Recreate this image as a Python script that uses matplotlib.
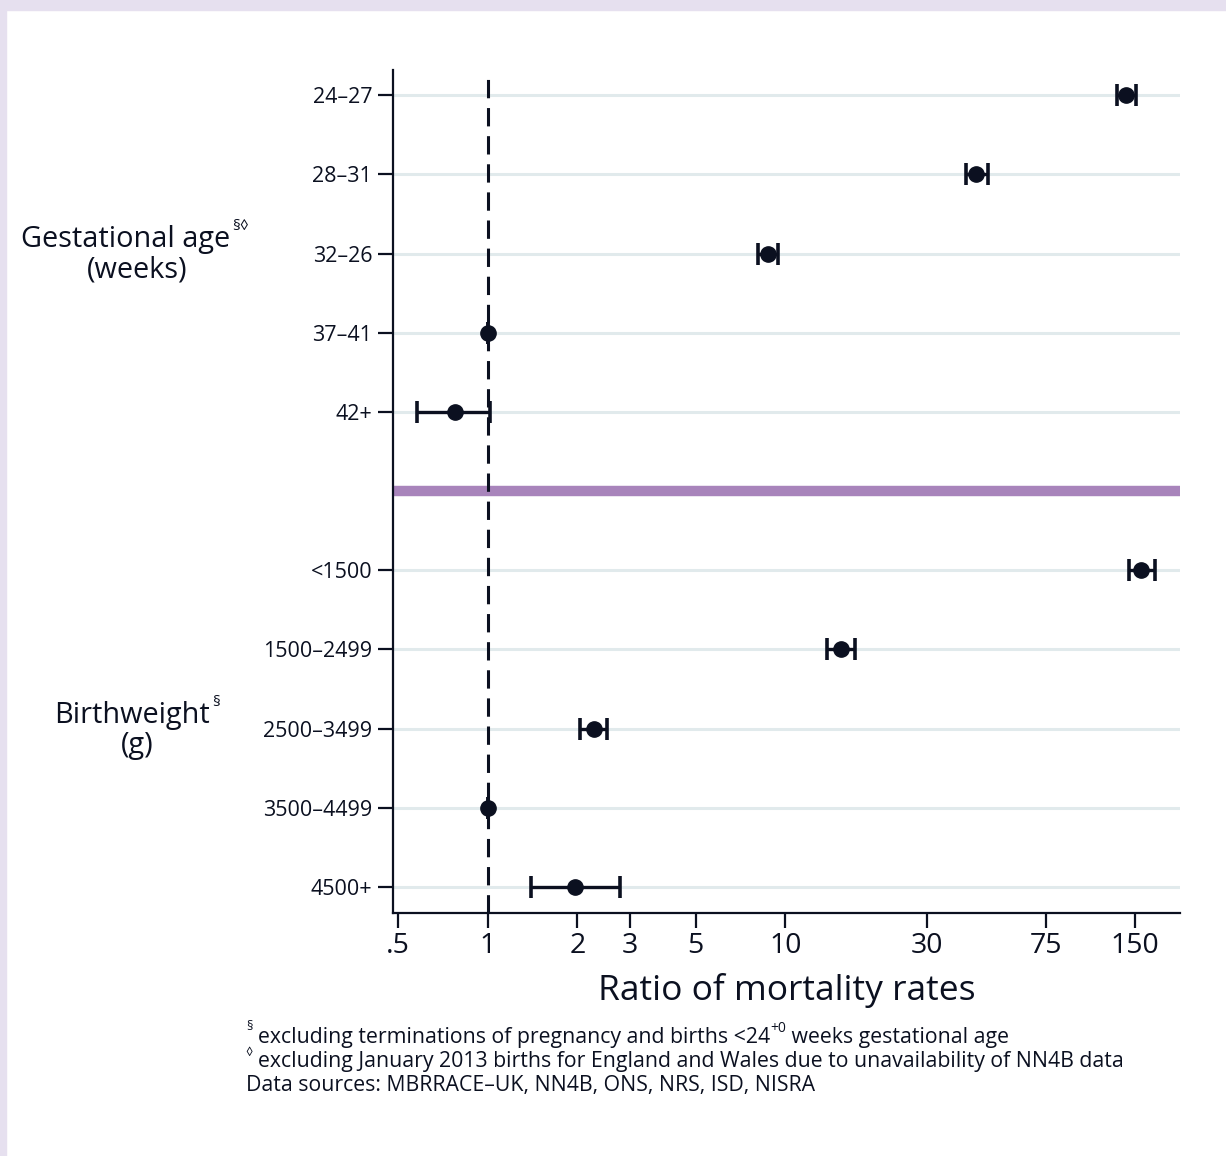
import matplotlib
matplotlib.use("Agg")
import matplotlib.pyplot as plt
import numpy as np

plt.rcParams['font.family'] = ['Open Sans', 'DejaVu Sans']

# rows from top to bottom; None marks the separator between the two groups
labels = ["24–27", "28–31", "32–26", "37–41", "42+",
          None,
          "<1500", "1500–2499", "2500–3499", "3500–4499", "4500+"]
ratio = [140, 43.8, 8.75, 1, 0.774, None, 157, 15.4, 2.27, 1, 1.96]
lower = [130, 40.5, 8.1, 1, 0.58, None, 143, 13.8, 2.04, 1, 1.40]
upper = [151, 48.0, 9.45, 1, 1.02, None, 175, 17.2, 2.51, 1, 2.78]

xticks = [0.5, 1, 2, 3, 5, 10, 30, 75, 150]
xticklabels = [".5", "1", "2", "3", "5", "10", "30", "75", "150"]

navy = "#0b1020"
W, H = 1226, 1156

fig = plt.figure(figsize=(W / 100, H / 100), dpi=100)
fig.patch.set_facecolor("white")

def px(x, y):
    return x / W, 1 - y / H

# lavender frame on top and left
fig.patches.append(plt.Rectangle((0, 1 - 10 / H), 1, 10 / H, transform=fig.transFigure,
                                 color="#e6e0ef", zorder=0))
fig.patches.append(plt.Rectangle((0, 0), 6 / W, 1, transform=fig.transFigure,
                                 color="#e6e0ef", zorder=0))

ax = fig.add_axes([393 / W, (H - 913) / H, (1180 - 393) / W, (913 - 70) / H])
ax.set_xscale("log")
ax.set_xlim(0.48, 212)
ax.set_ylim(10.33, -0.32)

rows = np.arange(len(labels))
for i, lab in enumerate(labels):
    if lab is None:
        ax.axhline(i, color="#a884bb", lw=7.5, zorder=2)
        continue
    ax.axhline(i, color="#e1eaec", lw=2.2, zorder=1)
    ax.errorbar(ratio[i], i, xerr=[[ratio[i] - lower[i]], [upper[i] - ratio[i]]],
                fmt="o", color=navy, ms=11, lw=2.4, capsize=8, capthick=2.6, zorder=4)

ax.axvline(1, color=navy, lw=2.2, dashes=(6, 3.2), zorder=3)

ax.set_yticks([r for r, l in zip(rows, labels) if l is not None])
ax.set_yticklabels([l for l in labels if l is not None], fontsize=15.5, color=navy)
ax.set_xticks(xticks)
ax.set_xticklabels(xticklabels, fontsize=20.5, color=navy)
ax.xaxis.set_minor_locator(matplotlib.ticker.NullLocator())
ax.tick_params(axis="y", length=11, width=1.6, color=navy, pad=4)
ax.tick_params(axis="x", length=11, width=1.6, color=navy, pad=3)
ax.set_xlabel("Ratio of mortality rates", fontsize=25.5, color=navy, labelpad=9)

for s in ["top", "right"]:
    ax.spines[s].set_visible(False)
for s in ["left", "bottom"]:
    ax.spines[s].set_color(navy)
    ax.spines[s].set_linewidth(1.6)

renderer = fig.canvas.get_renderer()

def right_px(t):
    # right edge of a text item in pixel x
    return t.get_window_extent(renderer).x1

# group labels
g1 = fig.text(*px(230, 239), "Gestational age", fontsize=20.8, color=navy, ha="right", va="center")
fig.text(*px(232, 227), "§◊", fontsize=11, color=navy, ha="left", va="center")
fig.text(*px(137, 270), "(weeks)", fontsize=20.8, color=navy, ha="center", va="center")

fig.text(*px(210, 715), "Birthweight", fontsize=20.8, color=navy, ha="right", va="center")
fig.text(*px(212, 703), "§", fontsize=11, color=navy, ha="left", va="center")
fig.text(*px(137, 746), "(g)", fontsize=20.8, color=navy, ha="center", va="center")

# footnotes
fs = 15.3
fig.text(*px(246, 1027), "§", fontsize=9, color=navy, ha="left", va="center")
t1 = fig.text(*px(258, 1038), "excluding terminations of pregnancy and births <24", fontsize=fs,
              color=navy, ha="left", va="center")
x1 = right_px(t1)
t2 = fig.text(x1 / W, 1 - 1029 / H, "+0", fontsize=10, color=navy, ha="left", va="center")
x2 = right_px(t2)
fig.text(x2 / W, 1 - 1038 / H, " weeks gestational age", fontsize=fs, color=navy, ha="left", va="center")
fig.text(*px(245, 1052), "◊", fontsize=9, color=navy, ha="left", va="center")
fig.text(*px(258, 1062), "excluding January 2013 births for England and Wales due to unavailability of NN4B data",
         fontsize=fs, color=navy, ha="left", va="center")
fig.text(*px(246, 1086), "Data sources: MBRRACE–UK, NN4B, ONS, NRS, ISD, NISRA", fontsize=fs,
         color=navy, ha="left", va="center")

fig.savefig("out.png", dpi=100)
